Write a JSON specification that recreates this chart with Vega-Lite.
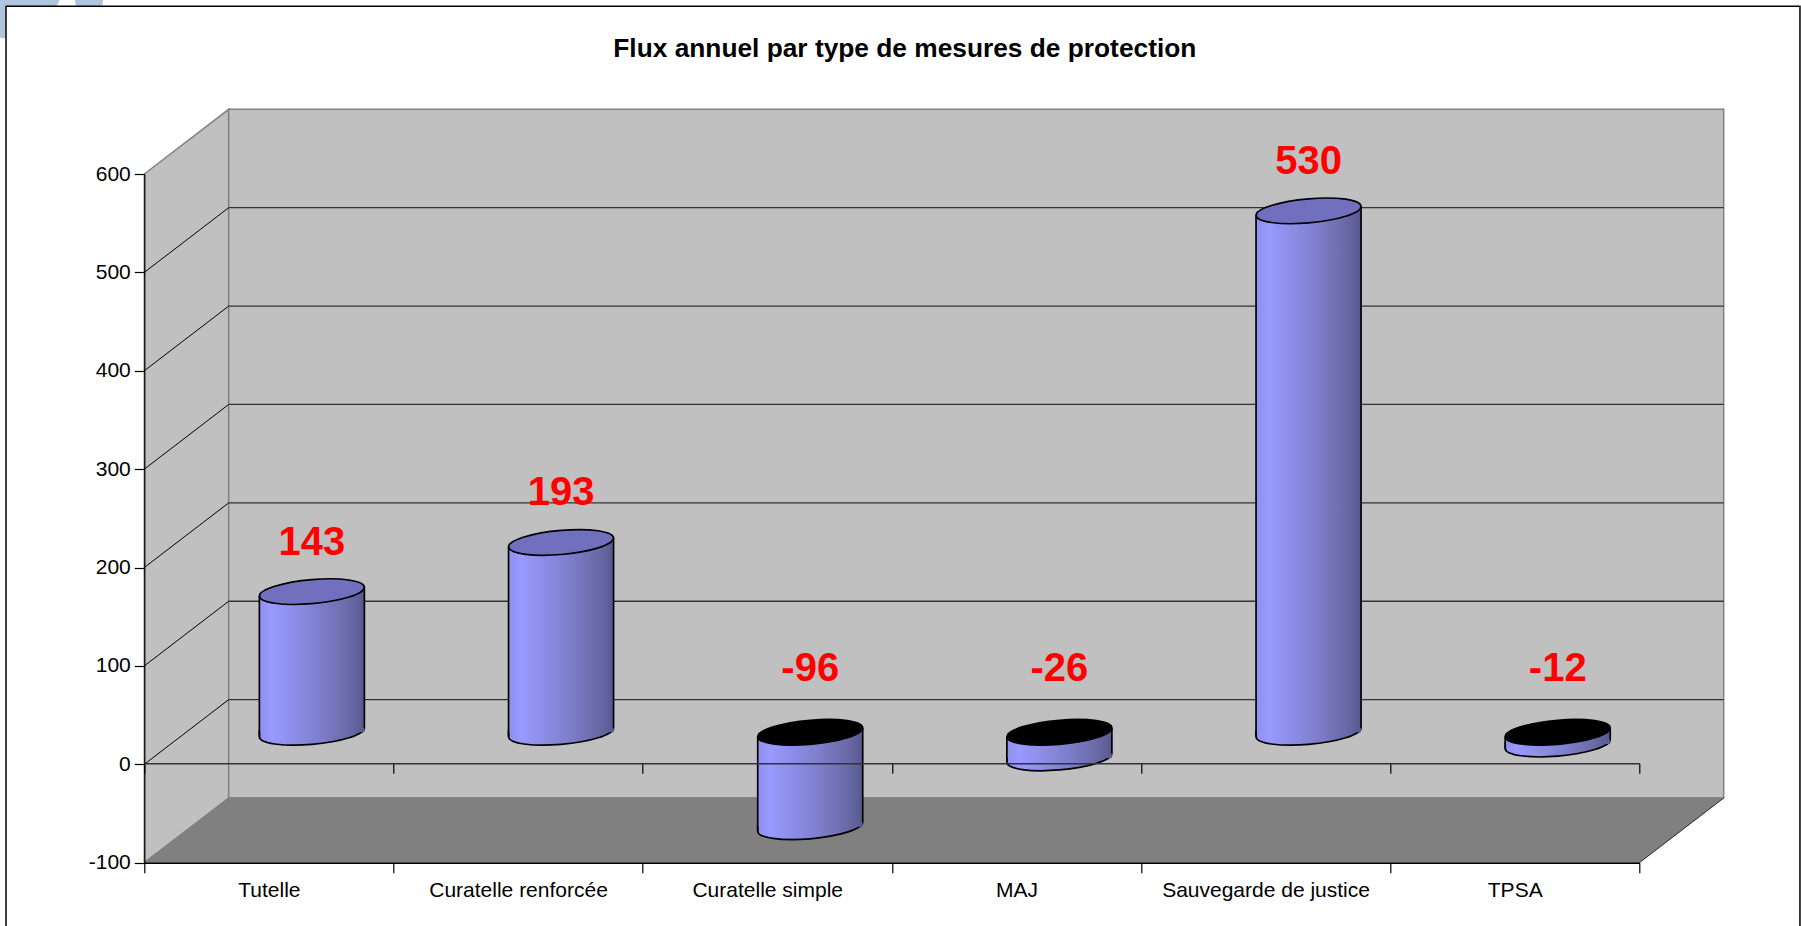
{
"$schema":"https://vega.github.io/schema/vega-lite/v6.json",
"width":1495,"height":688.7,
"autosize":{"type":"none"},
"padding":{"left":144.3,"top":174,"right":161.7,"bottom":63.3},
"background":"#ffffff",
"title":{"text":"Flux annuel par type de mesures de protection","font":"Liberation Sans","fontSize":26.3,"fontWeight":"bold","color":"#000000","anchor":"middle","frame":"group","dx":13,"offset":-161,"baseline":"alphabetic","limit":1000},
"config":{"view":{"stroke":null}},
"datasets":{
"mesures":[
{"categorie":"Tutelle","value":143},
{"categorie":"Curatelle renforcée","value":193},
{"categorie":"Curatelle simple","value":-96},
{"categorie":"MAJ","value":-26},
{"categorie":"Sauvegarde de justice","value":530},
{"categorie":"TPSA","value":-12}
],
"ticks":[{"tick":0,"back":65.75},{"tick":100,"back":165.75},{"tick":200,"back":265.75},{"tick":300,"back":365.75},{"tick":400,"back":465.75},{"tick":500,"back":565.75}]
},
"layer":[
{"layer":[
 {"data":{"values":[{"a":1}]},
  "mark":{"type":"point","shape":"circle","filled":true,"fill":"#b0c4de","stroke":null,"opacity":1,"size":13456},
  "encoding":{"x":{"datum":-0.559,"type":"quantitative","axis":null,"scale":{"domain":[0,6],"range":[0,1495],"nice":false,"zero":false}},
  "y":{"datum":797.2,"type":"quantitative","axis":{"values":[-100,0,100,200,300,400,500,600],"labelExpr":"toString(datum.value)","title":null,"grid":false,"domain":true,"domainColor":"#000000","domainWidth":1.2,"tickColor":"#000000","tickWidth":1.2,"tickSize":10,"labelFont":"Liberation Sans","labelFontSize":21,"labelColor":"#000000","labelPadding":4,"zindex":1,"labelOverlap":false},"scale":{"domain":[-100,600],"range":[688.7,0],"nice":false,"zero":false}}}},
 {"data":{"values":[{"a":1}]},
  "mark":{"type":"point","shape":"circle","filled":true,"fill":"#b0c4de","stroke":null,"opacity":1,"size":784},
  "encoding":{"x":{"datum":-0.2219,"type":"quantitative"},"y":{"datum":776.8,"type":"quantitative"}}},
 {"data":{"values":[{"a":1}]},
  "mark":{"type":"rect","fill":"#ffffff","stroke":"#000000","strokeWidth":1.5},
  "encoding":{"x":{"datum":-0.555,"type":"quantitative"},"x2":{"datum":6.6448},"y":{"datum":770.4,"type":"quantitative"},"y2":{"datum":-178.6}}},
 {"data":{"values":[{"u":0,"lo":-100,"hi":600},{"u":0.3387,"lo":-34.25,"hi":665.75}]},
  "mark":{"type":"area","fill":"#c0c0c0","stroke":"#808080","strokeWidth":1.5,"opacity":1},
  "encoding":{"x":{"field":"u","type":"quantitative"},"y":{"field":"lo","type":"quantitative"},"y2":{"field":"hi"}}},
 {"data":{"values":[{"a":1}]},
  "mark":{"type":"rect","fill":"#c0c0c0","stroke":"#808080","strokeWidth":1.5},
  "encoding":{"x":{"datum":0.3387,"type":"quantitative"},"x2":{"datum":6.3387},"y":{"datum":-34.25,"type":"quantitative"},"y2":{"datum":665.75}}},
 {"data":{"values":[{"v":-100,"a":0,"b":6},{"v":-34.25,"a":0.3387,"b":6.3387}]},
  "mark":{"type":"area","orient":"horizontal","fill":"#808080","stroke":"#808080","strokeWidth":1,"opacity":1},
  "encoding":{"y":{"field":"v","type":"quantitative"},"x":{"field":"a","type":"quantitative"},"x2":{"field":"b"}}},
 {"data":{"values":[{"a":1}]},
  "mark":{"type":"rule","color":"#333333","strokeWidth":1},
  "encoding":{"x":{"datum":6,"type":"quantitative"},"x2":{"datum":6.3387},"y":{"datum":-100,"type":"quantitative"},"y2":{"datum":-34.25}}},
 {"data":{"name":"ticks"},
  "mark":{"type":"rule","color":"#000000","strokeWidth":1},
  "encoding":{"x":{"datum":0,"type":"quantitative"},"x2":{"datum":0.3387},"y":{"field":"tick","type":"quantitative"},"y2":{"field":"back"}}},
 {"data":{"name":"ticks"},
  "mark":{"type":"rule","color":"#333333","strokeWidth":1.3},
  "encoding":{"x":{"datum":0.3387,"type":"quantitative"},"x2":{"datum":6.3387},"y":{"field":"back","type":"quantitative"}}}
 ]},
{"data":{"name":"mesures"},
 "encoding":{
  "x":{"field":"categorie","type":"nominal","sort":null,"axis":null,"scale":{"type":"band","domain":["Tutelle","Curatelle renforcée","Curatelle simple","MAJ","Sauvegarde de justice","TPSA"],"range":[43,1538],"paddingInner":0,"paddingOuter":0}}
 },
 "layer":[
 {"transform":[{"filter":"datum.value>=0"}],
  "mark":{"type":"point","shape":"M1,-0.084C1,0.043,0.5523,0.1836,0,0.23C-0.5523,0.2764,-1,0.211,-1,0.084L-1,-0.05","size":11025,"filled":true,"opacity":1,"stroke":"#000000","strokeWidth":1.7,"fill":{"x1":0,"y1":0,"x2":1,"y2":0,"gradient":"linear","stops":[{"offset":0,"color":"#9090f0"},{"offset":0.12,"color":"#9999ff"},{"offset":0.55,"color":"#8080d0"},{"offset":0.85,"color":"#6a6aa8"},{"offset":1,"color":"#585890"}]}},
  "encoding":{"y":{"datum":0,"type":"quantitative","axis":null,"scale":{"domain":[-100,600],"range":[656.7,-32],"nice":false,"zero":false}}}},
 {"transform":[{"filter":"datum.value<0"}],
  "mark":{"type":"point","shape":"M1,-0.084C1,0.043,0.5523,0.1836,0,0.23C-0.5523,0.2764,-1,0.211,-1,0.084L-1,-0.05","size":11025,"filled":true,"opacity":1,"stroke":"#000000","strokeWidth":1.7,"fill":{"x1":0,"y1":0,"x2":1,"y2":0,"gradient":"linear","stops":[{"offset":0,"color":"#9090f0"},{"offset":0.12,"color":"#9999ff"},{"offset":0.55,"color":"#8080d0"},{"offset":0.85,"color":"#6a6aa8"},{"offset":1,"color":"#585890"}]}},
  "encoding":{"y":{"field":"value","type":"quantitative"}}},
 {"mark":{"type":"rect","width":{"band":0.4214},"stroke":null,"fill":{"x1":0,"y1":0,"x2":1,"y2":0,"gradient":"linear","stops":[{"offset":0,"color":"#9090f0"},{"offset":0.12,"color":"#9999ff"},{"offset":0.55,"color":"#8080d0"},{"offset":0.85,"color":"#6a6aa8"},{"offset":1,"color":"#585890"}]}},
  "encoding":{"y":{"field":"value","type":"quantitative"},"y2":{"datum":0}}},
 {"transform":[{"filter":"datum.value>=0"}],
  "mark":{"type":"point","shape":"M-1,0.084C-1,-0.043,-0.5523,-0.1836,0,-0.23C0.5523,-0.2764,1,-0.211,1,-0.084C1,0.043,0.5523,0.1836,0,0.23C-0.5523,0.2764,-1,0.211,-1,0.084Z","size":11025,"filled":true,"opacity":1,"stroke":"#000000","strokeWidth":1.7,"fill":"#7070bf"},
  "encoding":{"y":{"field":"value","type":"quantitative"}}},
 {"transform":[{"filter":"datum.value<0"}],
  "mark":{"type":"point","shape":"M-1,0.084C-1,-0.043,-0.5523,-0.1836,0,-0.23C0.5523,-0.2764,1,-0.211,1,-0.084C1,0.043,0.5523,0.1836,0,0.23C-0.5523,0.2764,-1,0.211,-1,0.084Z","size":11025,"filled":true,"opacity":1,"stroke":"#000000","strokeWidth":1.7,"fill":"#000000"},
  "encoding":{"y":{"datum":0,"type":"quantitative"}}},
 {"transform":[{"filter":"datum.value>=0"}],
  "mark":{"type":"text","font":"Liberation Sans","fontSize":40,"fontWeight":"bold","color":"#ff0000","dy":-49,"align":"center","baseline":"middle"},
  "encoding":{"y":{"field":"value","type":"quantitative"},"text":{"field":"value","type":"nominal"}}},
 {"transform":[{"filter":"datum.value<0"}],
  "mark":{"type":"text","font":"Liberation Sans","fontSize":40,"fontWeight":"bold","color":"#ff0000","dy":-63,"align":"center","baseline":"middle"},
  "encoding":{"y":{"datum":0,"type":"quantitative"},"text":{"field":"value","type":"nominal"}}}
 ]},
{"data":{"name":"mesures"},
 "mark":{"type":"rule","color":"#000000","strokeWidth":1.7},
 "encoding":{"x":{"field":"categorie","type":"nominal","sort":null,"bandPosition":0.2893,"axis":null,"scale":{"type":"band","domain":["Tutelle","Curatelle renforcée","Curatelle simple","MAJ","Sauvegarde de justice","TPSA"],"range":[43,1538],"paddingInner":0,"paddingOuter":0}},
 "y":{"field":"value","type":"quantitative","axis":null,"scale":{"domain":[-100,600],"range":[661.1,-27.6],"nice":false,"zero":false}},"y2":{"datum":0}}},
{"data":{"name":"mesures"},
 "mark":{"type":"rule","color":"#000000","strokeWidth":1.7},
 "encoding":{"x":{"field":"categorie","type":"nominal","sort":null,"bandPosition":0.7107,"axis":null,"scale":{"type":"band","domain":["Tutelle","Curatelle renforcée","Curatelle simple","MAJ","Sauvegarde de justice","TPSA"],"range":[43,1538],"paddingInner":0,"paddingOuter":0}},
 "y":{"field":"value","type":"quantitative","axis":null,"scale":{"domain":[-100,600],"range":[652.3,-36.4],"nice":false,"zero":false}},"y2":{"datum":0}}},
{"data":{"name":"mesures"},
 "mark":{"type":"point","opacity":0},
 "encoding":{"x":{"field":"categorie","type":"nominal","sort":null,"scale":{"type":"band","domain":["Tutelle","Curatelle renforcée","Curatelle simple","MAJ","Sauvegarde de justice","TPSA"],"paddingInner":0,"paddingOuter":0},
  "axis":{"title":null,"orient":"bottom","tickBand":"extent","tickSize":10,"tickColor":"#000000","tickWidth":1.2,"domainColor":"#000000","domainWidth":1.5,"labelAngle":0,"labelFont":"Liberation Sans","labelFontSize":21,"labelColor":"#000000","labelPadding":7,"labelOverlap":false,"labelLimit":400,"zindex":1}}}},
{"data":{"name":"mesures"},
 "mark":{"type":"point","opacity":0},
 "encoding":{"x":{"field":"categorie","type":"nominal","sort":null,"scale":{"type":"band","domain":["Tutelle","Curatelle renforcée","Curatelle simple","MAJ","Sauvegarde de justice","TPSA"],"paddingInner":0,"paddingOuter":0},
  "axis":{"title":null,"orient":"bottom","offset":-99.5,"tickBand":"extent","tickSize":10,"tickColor":"#000000","tickWidth":1.2,"domainColor":"#333333","domainWidth":1.5,"labels":false,"zindex":1}}}}
],
"resolve":{"scale":{"x":"independent","y":"independent"},"axis":{"x":"independent","y":"independent"}}
}
